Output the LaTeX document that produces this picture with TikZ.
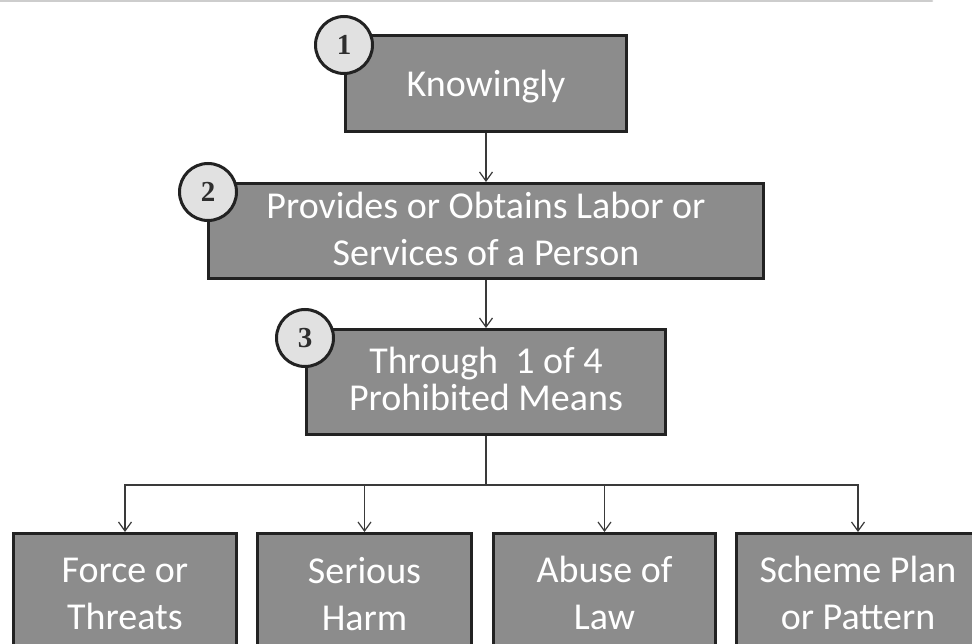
\documentclass[tikz,border=0pt]{standalone}
\usepackage{fontspec}
\setmainfont{Carlito}
\newfontfamily\numfont{Liberation Serif}
\usetikzlibrary{arrows.meta}
\definecolor{boxgray}{HTML}{8C8C8C}
\definecolor{edgedark}{HTML}{222222}
\definecolor{circfill}{HTML}{E1E1E1}
\definecolor{linkgray}{HTML}{3A3A3A}
\definecolor{topgray}{HTML}{CDCDCD}
\definecolor{numgray}{HTML}{2E2E2E}
\begin{document}
\begin{tikzpicture}[x=1pt,y=-1pt,
  mainbox/.style={draw=edgedark, line width=3pt, fill=boxgray, rectangle, inner sep=0pt},
  boxtext/.style={text=white, align=center, inner sep=0pt},
  wideskip/.style={font=\fontsize{38}{47}\selectfont},
  narrowskip/.style={font=\fontsize{38}{37.5}\selectfont},
  numcirc/.style={circle, draw=edgedark, line width=3pt, fill=circfill, minimum size=57pt, inner sep=0pt, font=\numfont\bfseries\fontsize{29}{32}\selectfont, text=numgray},
  link/.style={draw=linkgray, line width=1.2pt, -{Straight Barb[length=9pt,width=13pt]}},
  plainlink/.style={draw=linkgray, line width=1.2pt},
  topline/.style={draw=topgray, line width=2.5pt, line cap=round}
]
\useasboundingbox (0,0) rectangle (972,644);
\clip (0,0) rectangle (972,644);
\fill[white] (0,0) rectangle (972,644);

% thin rule at the top
\coordinate (tl) at (0,1);
\coordinate (tr) at (932,1);
\draw[topline] (tl) -- (tr);

% boxes
\node[mainbox, minimum width=281pt, minimum height=96pt] (b1) at (486,83.5) {};
\node[mainbox, minimum width=555pt, minimum height=95pt] (b2) at (486,231) {};
\node[mainbox, minimum width=359pt, minimum height=105pt] (b3) at (486,382) {};
\node[mainbox, minimum width=223pt, minimum height=127pt] (bA) at (125,597) {};
\node[mainbox, minimum width=214pt, minimum height=127pt] (bB) at (364.5,597) {};
\node[mainbox, minimum width=222pt, minimum height=127pt] (bC) at (604.5,597) {};
\node[mainbox, minimum width=243pt, minimum height=127pt] (bD) at (858,597) {};

% texts
\node[boxtext, wideskip, anchor=base] (t1) at (486,97) {Knowingly};
\node[boxtext, wideskip] (t2) at (486,229) {Provides or Obtains Labor or\\Services of a Person};
\node[boxtext, narrowskip] (t3) at (486,379) {Through~~1 of 4\\Prohibited Means};
\node[boxtext, wideskip] (tA) at (125,594) {Force or\\Threats};
\node[boxtext, wideskip] (tB) at (364.5,594) {Serious\\Harm};
\node[boxtext, wideskip] (tC) at (604.5,593) {Abuse of\\Law};
\node[boxtext, wideskip] (tD) at (858,593) {Scheme Plan\\or Pattern};

% number circles
\node[numcirc] (c1) at (344,45) {1};
\node[numcirc] (c2) at (208,192) {2};
\node[numcirc] (c3) at (305,338) {3};

% connectors
\draw[link] (b1.south) -- (b2.north);
\draw[link] (b2.south) -- (b3.north);
\coordinate (split) at (486,485);
\draw[plainlink] (b3.south) -- (split);
\draw[link] (split) -| (bA.north);
\draw[link] (split) -| (bB.north);
\draw[link] (split) -| (bC.north);
\draw[link] (split) -| (bD.north);
\end{tikzpicture}
\end{document}
